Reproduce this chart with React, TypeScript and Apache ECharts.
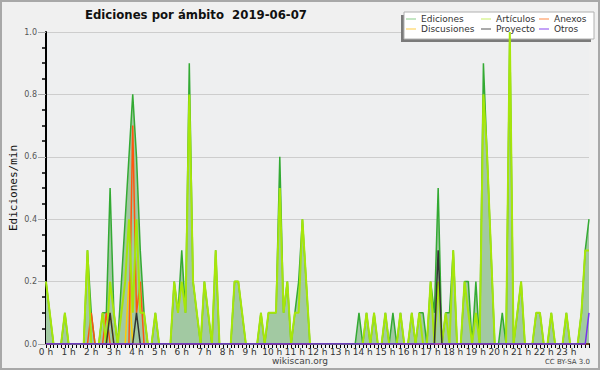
import { useEffect, useRef } from "react";
import * as echarts from "echarts";

const titleText = "Ediciones por ámbito  2019-06-07";
const yAxisName = "Ediciones/min";
const footerText = "wikiscan.org";
const licenseText = "CC BY-SA 3.0";

// 24 hour labels on the x axis
const xTickLabels = [
  "0 h", "1 h", "2 h", "3 h", "4 h", "5 h", "6 h", "7 h", "8 h", "9 h", "10 h", "11 h",
  "12 h", "13 h", "14 h", "15 h", "16 h", "17 h", "18 h", "19 h", "20 h", "21 h", "22 h", "23 h",
];
const yTickLabels = ["0.0", "0.2", "0.4", "0.6", "0.8", "1.0"];

// one value every 10 minutes, 0 h .. 24 h (145 points)
const ediciones = [
  0.2, 0.1, 0, 0, 0, 0.1, 0, 0, 0, 0, 0, 0.3,
  0.1, 0, 0, 0.1, 0.1, 0.5, 0.1, 0, 0.2, 0.4, 0.6, 0.8,
  0.6, 0.3, 0.1, 0, 0, 0.1, 0, 0, 0, 0, 0.2, 0.1,
  0.3, 0.1, 0.9, 0.2, 0.1, 0, 0.2, 0.1, 0, 0.3, 0, 0,
  0, 0, 0.2, 0.2, 0.1, 0, 0, 0, 0, 0.1, 0, 0.1,
  0.1, 0.1, 0.6, 0.1, 0.2, 0, 0.1, 0.2, 0.4, 0.2, 0, 0,
  0, 0, 0, 0, 0, 0, 0, 0, 0, 0, 0, 0.1,
  0, 0.1, 0, 0.1, 0, 0, 0.1, 0, 0.1, 0, 0.1, 0,
  0, 0.1, 0, 0.1, 0.1, 0, 0.2, 0.1, 0.5, 0, 0.1, 0.1,
  0.3, 0, 0, 0.2, 0.2, 0, 0.2, 0, 0.9, 0.6, 0.3, 0,
  0, 0.1, 0, 1.0, 0, 0.1, 0.2, 0, 0, 0, 0.1, 0.1,
  0, 0, 0.1, 0, 0, 0, 0.1, 0, 0, 0, 0.1, 0.3,
  0.4,
];
const articulos = [
  0.2, 0.1, 0, 0, 0, 0.1, 0, 0, 0, 0, 0, 0.3,
  0, 0, 0, 0.1, 0, 0.2, 0.1, 0, 0.1, 0.2, 0.4, 0.1,
  0.4, 0.1, 0.1, 0, 0, 0.1, 0, 0, 0, 0, 0.2, 0.1,
  0.2, 0.1, 0.8, 0.2, 0.1, 0, 0.2, 0.1, 0, 0.3, 0, 0,
  0, 0, 0.2, 0.2, 0.1, 0, 0, 0, 0, 0.1, 0, 0.1,
  0.1, 0.1, 0.5, 0.1, 0.2, 0, 0.1, 0.1, 0.4, 0.2, 0, 0,
  0, 0, 0, 0, 0, 0, 0, 0, 0, 0, 0, 0,
  0, 0.1, 0, 0.1, 0, 0, 0.1, 0, 0, 0, 0.1, 0,
  0, 0.1, 0, 0.1, 0, 0, 0.2, 0, 0.2, 0, 0.1, 0,
  0.3, 0, 0, 0.2, 0.1, 0, 0.1, 0, 0.8, 0.6, 0.3, 0,
  0, 0, 0, 1.0, 0, 0.1, 0.2, 0, 0, 0, 0.1, 0.1,
  0, 0, 0.1, 0, 0, 0, 0.1, 0, 0, 0, 0.1, 0.3,
  0.3,
];
const anexos = [
  0, 0, 0, 0, 0, 0, 0, 0, 0, 0, 0, 0,
  0.1, 0, 0, 0, 0.1, 0, 0, 0, 0, 0, 0, 0.7,
  0.1, 0.2, 0, 0, 0, 0, 0, 0, 0, 0, 0, 0,
  0, 0, 0, 0, 0, 0, 0, 0, 0, 0, 0, 0,
  0, 0, 0, 0, 0, 0, 0, 0, 0, 0, 0, 0,
  0, 0, 0, 0, 0, 0, 0, 0, 0, 0, 0, 0,
  0, 0, 0, 0, 0, 0, 0, 0, 0, 0, 0, 0,
  0, 0, 0, 0, 0, 0, 0, 0, 0, 0, 0, 0,
  0, 0, 0, 0, 0, 0, 0, 0, 0, 0, 0, 0,
  0, 0, 0, 0, 0, 0, 0, 0, 0, 0, 0, 0,
  0, 0, 0, 0, 0, 0, 0, 0, 0, 0, 0, 0,
  0, 0, 0, 0, 0, 0, 0, 0, 0, 0, 0, 0,
  0,
];
const discusiones = [
  0, 0, 0, 0, 0, 0, 0, 0, 0, 0, 0, 0,
  0, 0, 0, 0, 0, 0.1, 0, 0, 0, 0, 0.2, 0,
  0, 0, 0, 0, 0, 0, 0, 0, 0, 0, 0, 0,
  0, 0, 0, 0, 0, 0, 0, 0, 0, 0, 0, 0,
  0, 0, 0, 0, 0, 0, 0, 0, 0, 0, 0, 0,
  0, 0, 0, 0, 0, 0, 0, 0, 0, 0, 0, 0,
  0, 0, 0, 0, 0, 0, 0, 0, 0, 0, 0, 0,
  0, 0, 0, 0, 0, 0, 0, 0, 0, 0, 0, 0,
  0, 0, 0, 0, 0, 0, 0, 0, 0, 0, 0, 0,
  0, 0, 0, 0, 0, 0, 0, 0, 0, 0, 0, 0,
  0, 0, 0, 0, 0, 0, 0, 0, 0, 0, 0, 0,
  0, 0, 0, 0, 0, 0, 0, 0, 0, 0, 0, 0,
  0,
];
const proyecto = [
  0, 0, 0, 0, 0, 0, 0, 0, 0, 0, 0, 0,
  0, 0, 0, 0, 0, 0.1, 0, 0, 0, 0, 0, 0,
  0.1, 0, 0, 0, 0, 0, 0, 0, 0, 0, 0, 0,
  0, 0, 0, 0, 0, 0, 0, 0, 0, 0, 0, 0,
  0, 0, 0, 0, 0, 0, 0, 0, 0, 0, 0, 0,
  0, 0, 0, 0, 0, 0, 0, 0, 0, 0, 0, 0,
  0, 0, 0, 0, 0, 0, 0, 0, 0, 0, 0, 0,
  0, 0, 0, 0, 0, 0, 0, 0, 0, 0, 0, 0,
  0, 0, 0, 0, 0, 0, 0, 0, 0.3, 0, 0, 0,
  0, 0, 0, 0, 0, 0, 0, 0, 0, 0, 0, 0,
  0, 0, 0, 0, 0, 0, 0, 0, 0, 0, 0, 0,
  0, 0, 0, 0, 0, 0, 0, 0, 0, 0, 0, 0,
  0,
];
const otros = [
  0, 0, 0, 0, 0, 0, 0, 0, 0, 0, 0, 0,
  0, 0, 0, 0, 0, 0, 0, 0, 0, 0, 0, 0,
  0, 0, 0, 0, 0, 0, 0, 0, 0, 0, 0, 0,
  0, 0, 0, 0, 0, 0, 0, 0, 0, 0, 0, 0,
  0, 0, 0, 0, 0, 0, 0, 0, 0, 0, 0, 0,
  0, 0, 0, 0, 0, 0, 0, 0, 0, 0, 0, 0,
  0, 0, 0, 0, 0, 0, 0, 0, 0, 0, 0, 0,
  0, 0, 0, 0, 0, 0, 0, 0, 0, 0, 0, 0,
  0, 0, 0, 0, 0, 0, 0, 0, 0, 0, 0, 0,
  0, 0, 0, 0, 0, 0, 0, 0, 0, 0, 0, 0,
  0, 0, 0, 0, 0, 0, 0, 0, 0, 0, 0, 0,
  0, 0, 0, 0, 0, 0, 0, 0, 0, 0, 0, 0,
  0.1,
];

const STEPS_PER_HOUR = 6;
const toPairs = (arr: number[]) => arr.map((v, i) => [i / STEPS_PER_HOUR, v]);

const lineSeries = (
  name: string,
  data: number[],
  color: string,
  legendColor: string,
  width: number,
  z: number,
  area?: string
) => ({
  name,
  type: "line",
  data: toPairs(data),
  showSymbol: false,
  symbol: "none",
  z,
  itemStyle: { color: legendColor },
  lineStyle: { color, width },
  areaStyle: area ? { color: area, opacity: 1 } : undefined,
  emphasis: { disabled: true },
});

const legendBase = {
  orient: "vertical",
  top: 14,
  padding: 0,
  itemGap: 0,
  itemWidth: 10,
  itemHeight: 1,
  icon: "rect",
  selectedMode: false,
  textStyle: { fontSize: 9, color: "#333", fontFamily: "DejaVu Sans", lineHeight: 10 },
};

export default function App() {
  const ref = useRef<HTMLDivElement>(null);
  useEffect(() => {
    document.body.style.margin = "0";
    if (!ref.current) return;
    const chart = echarts.init(ref.current, undefined, { renderer: "svg" });
    chart.setOption({
      animation: false,
      backgroundColor: "#f0f0f0",
      grid: {
        left: 46,
        right: 11,
        top: 32,
        bottom: 26,
        show: true,
        backgroundColor: "#eeeff0",
        borderWidth: 0,
        containLabel: false,
        outerBoundsMode: "none",
      },
      xAxis: {
        type: "value",
        min: 0,
        max: 24,
        interval: 1,
        axisLine: { show: true, lineStyle: { color: "#000", width: 2 } },
        axisTick: { show: true, length: 4, lineStyle: { color: "#000", width: 1 } },
        minorTick: { show: true, splitNumber: 6, length: 4, lineStyle: { color: "#000", width: 1 } },
        axisLabel: {
          fontSize: 9,
          color: "#333",
          margin: 3,
          fontFamily: "DejaVu Sans",
          formatter: (v: number) => xTickLabels[v] ?? "",
        },
        splitLine: { show: false },
      },
      yAxis: {
        type: "value",
        min: 0,
        max: 1,
        interval: 0.2,
        name: yAxisName,
        nameLocation: "middle",
        nameGap: 27,
        nameMoveOverlap: false,
        nameTextStyle: { fontFamily: "DejaVu Sans Mono", fontSize: 11, color: "#111" },
        axisLine: { show: true, lineStyle: { color: "#000", width: 2 } },
        axisTick: { show: true, length: 8, lineStyle: { color: "#aaa", width: 1 } },
        minorTick: { show: true, splitNumber: 4, length: 4, lineStyle: { color: "#000", width: 1.5 } },
        axisLabel: {
          fontSize: 8,
          color: "#555",
          margin: 9,
          fontFamily: "DejaVu Sans",
          formatter: (v: number) => yTickLabels[Math.round(v * 5)] ?? "",
        },
        splitLine: { show: true, lineStyle: { color: "#cdcdcd", width: 1 } },
      },
      legend: [
        { ...legendBase, left: 406, data: ["Ediciones", "Discusiones"] },
        { ...legendBase, left: 481, data: ["Artículos", "Proyecto"] },
        { ...legendBase, left: 539, data: ["Anexos", "Otros"] },
      ],
      series: [
        lineSeries("Ediciones", ediciones, "#33aa33", "#88cc88", 1.5, 2, "#a2c9a2"),
        lineSeries("Discusiones", discusiones, "#ffcc00", "#ffcc44", 1.5, 3),
        lineSeries("Anexos", anexos, "#ff5511", "#ff8844", 1.5, 3),
        lineSeries("Proyecto", proyecto, "#333333", "#555555", 1.5, 4),
        lineSeries("Otros", otros, "#7733ee", "#8844ee", 1.5, 4),
        lineSeries("Artículos", articulos, "#a6e60a", "#c6ee66", 2, 3),
      ],
      graphic: [
        {
          type: "rect",
          shape: { x: 1, y: 1, width: 598, height: 368 },
          style: { fill: "none", stroke: "#a8a8a8", lineWidth: 2 },
          z: 10,
        },
        {
          type: "rect",
          shape: { x: 401, y: 15, width: 190, height: 27 },
          style: { fill: "#7a7a7a" },
          z: 3,
        },
        {
          type: "rect",
          shape: { x: 404, y: 12, width: 190, height: 27 },
          style: { fill: "#ffffff", stroke: "#b0b0b0", lineWidth: 1 },
          z: 3,
        },
        {
          type: "text",
          x: 85,
          y: 14,
          style: {
            text: titleText,
            font: "bold 13px 'DejaVu Sans Condensed', 'DejaVu Sans'",
            fill: "#111",
            textVerticalAlign: "middle",
          },
          z: 5,
        },
        {
          type: "text",
          x: 300,
          y: 361,
          style: {
            text: footerText,
            font: "9px 'DejaVu Sans'",
            fill: "#444",
            textAlign: "center",
            textVerticalAlign: "middle",
          },
          z: 5,
        },
        {
          type: "text",
          x: 590,
          y: 362,
          style: {
            text: licenseText,
            font: "7px 'DejaVu Sans'",
            fill: "#444",
            textAlign: "right",
            textVerticalAlign: "middle",
          },
          z: 5,
        },
      ],
    });
    return () => chart.dispose();
  }, []);
  return <div ref={ref} style={{ width: 600, height: 370 }} />;
}
